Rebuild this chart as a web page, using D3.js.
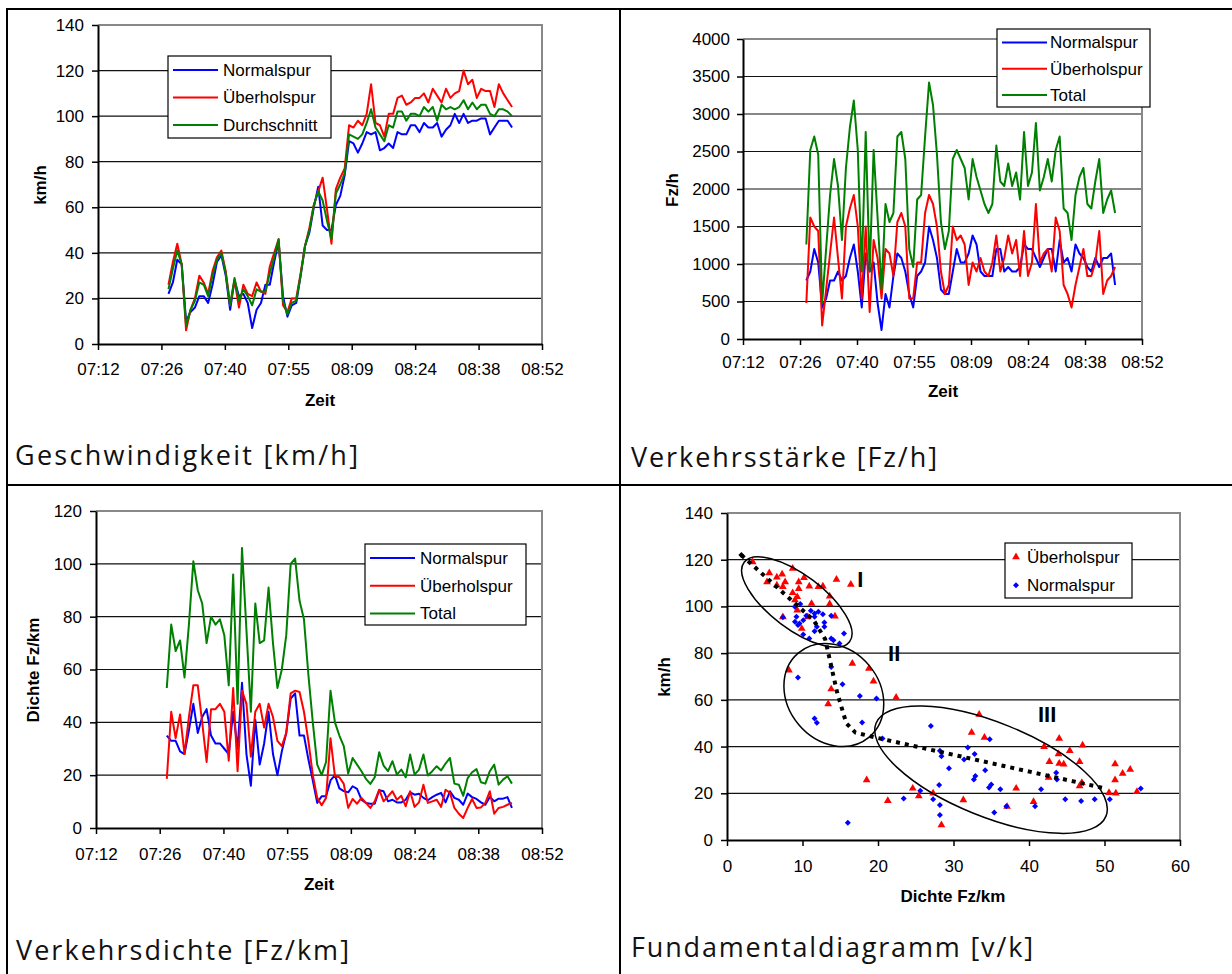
<!DOCTYPE html>
<html>
<head>
<meta charset="utf-8">
<script src="https://cdn.jsdelivr.net/npm/d3@7"></script>
<style>
  body { margin: 0; background: #fff; }
  svg { display: block; }
</style>
</head>
<body>
<div id="chart"></div>
<script>
// ---- data (1-minute samples, 07:28 - 08:46) ----
const times = [
  "07:28","07:29","07:30","07:31","07:32","07:33","07:34","07:35","07:36","07:37",
  "07:38","07:39","07:40","07:41","07:42","07:43","07:44","07:45","07:46","07:47",
  "07:48","07:49","07:50","07:51","07:52","07:53","07:54","07:55","07:56","07:57",
  "07:58","07:59","08:00","08:01","08:02","08:03","08:04","08:05","08:06","08:07",
  "08:08","08:09","08:10","08:11","08:12","08:13","08:14","08:15","08:16","08:17",
  "08:18","08:19","08:20","08:21","08:22","08:23","08:24","08:25","08:26","08:27",
  "08:28","08:29","08:30","08:31","08:32","08:33","08:34","08:35","08:36","08:37",
  "08:38","08:39","08:40","08:41","08:42","08:43","08:44","08:45","08:46"
];

// Excel time axis: 0.30 .. 0.37 of a day
const xTicks = [0.30, 0.31, 0.32, 0.33, 0.34, 0.35, 0.36, 0.37];
const xTickLabels = ["07:12","07:26","07:40","07:55","08:09","08:24","08:38","08:52"];

// Geschwindigkeit [km/h]
const speedNormal = [22, 27, 37, 35, 10, 14, 16, 21, 21, 18,
  26, 36, 39, 30, 15, 28, 21, 22, 18, 7,
  15, 18, 26, 26, 36, 45, 21, 12, 17, 18,
  30, 43, 49, 60, 69, 52, 50, 50, 61, 65,
  74, 89, 88, 84, 88, 93, 92, 93, 85, 86,
  88, 86, 93, 92, 92, 96, 96, 93, 97, 95,
  95, 97, 91, 94, 96, 101, 97, 101, 97, 98,
  98, 99, 99, 92, 95, 98, 98, 98, 95];
const speedPass = [26, 36, 44, 35, 6, 15, 20, 30, 27, 22,
  32, 38, 41, 32, 17, 28, 16, 26, 22, 21,
  27, 23, 22, 34, 40, 46, 17, 14, 20, 20,
  31, 43, 51, 61, 67, 73, 59, 44, 68, 73,
  77, 96, 95, 98, 96, 101, 114, 97, 96, 91,
  101, 101, 108, 109, 105, 106, 108, 108, 110, 106,
  112, 109, 106, 112, 108, 110, 111, 120, 114, 116,
  108, 112, 111, 111, 104, 114, 110, 107, 104];
const speedAvg = [24, 33, 41, 35, 8, 15, 19, 27, 26, 21,
  30, 37, 40, 31, 17, 29, 19, 24, 21, 17,
  24, 23, 23, 31, 38, 46, 19, 13, 18, 19,
  30, 43, 50, 61, 67, 63, 54, 46, 66, 70,
  75, 92, 91, 90, 92, 97, 103, 95, 92, 89,
  96, 95, 102, 102, 98, 101, 101, 100, 104, 102,
  104, 98, 105, 103, 104, 103, 104, 107, 103, 106,
  103, 105, 105, 101, 100, 103, 103, 102, 100];

// Verkehrsstärke [Fz/h]
const flowNormal = [780, 900, 1200, 1020, 420, 540, 780, 780, 900, 780,
  840, 1080, 1260, 900, 420, 1140, 900, 1020, 480, 120,
  600, 420, 840, 1140, 1080, 900, 600, 420, 840, 900,
  1020, 1500, 1320, 1080, 660, 600, 600, 900, 1200, 1020,
  1020, 1140, 1380, 1260, 900, 840, 840, 840, 1200, 1200,
  900, 960, 900, 900, 960, 1260, 1200, 1200, 1080, 960,
  1080, 1200, 1200, 900, 1320, 1020, 1080, 900, 1260, 1140,
  1080, 960, 900, 1080, 960, 1080, 1080, 1140, 720];
const flowPass = [480, 1620, 1500, 1440, 180, 660, 1140, 1620, 1080, 540,
  1500, 1740, 1920, 1500, 540, 1500, 360, 1320, 1080, 540,
  1200, 1140, 840, 1560, 1680, 1500, 540, 540, 1020, 1020,
  1680, 1920, 1800, 1500, 900, 600, 720, 1500, 1320, 1380,
  1260, 720, 1020, 900, 1080, 900, 840, 1020, 1380, 900,
  1080, 1380, 1140, 1320, 840, 1440, 840, 1020, 1800, 1020,
  1140, 1200, 900, 1620, 1440, 720, 600, 420, 720, 960,
  1200, 840, 840, 1020, 1440, 600, 780, 840, 960];
const flowTotal = [1260, 2520, 2700, 2460, 480, 1200, 1920, 2400, 2040, 1320,
  2280, 2820, 3180, 2520, 900, 2760, 900, 2520, 1620, 660,
  1800, 1560, 1680, 2700, 2760, 2400, 1200, 960, 1860, 1920,
  2700, 3420, 3120, 2460, 1560, 1200, 1440, 2400, 2520, 2400,
  2280, 1860, 2400, 2160, 1980, 1800, 1680, 1800, 2580, 2100,
  2040, 2340, 2040, 2220, 1860, 2760, 2040, 2220, 2880, 1980,
  2160, 2400, 2100, 2520, 2700, 1740, 1680, 1320, 1920, 2160,
  2280, 1800, 1740, 2100, 2400, 1680, 1860, 1980, 1680];

// Verkehrsdichte [Fz/km]
const densNormal = [35, 33, 33, 29, 28, 37, 47, 36, 42, 45,
  35, 32, 32, 30, 28, 44, 30, 55, 28, 16,
  41, 24, 32, 44, 28, 20, 29, 36, 49, 51,
  35, 35, 26, 18, 9.5, 12, 12, 18, 20, 15,
  14, 13.5, 15.8, 14.8, 10.7, 9.5, 9.2, 9.2, 14.3, 13.9,
  10.1, 10.7, 9.7, 9.7, 10.7, 13.5, 12.6, 13, 11.4, 10.5,
  11.7, 12.6, 13.3, 9.7, 13.9, 11.4, 10.7, 8.8, 13, 11.7,
  11, 9.7, 8.8, 11.7, 10.1, 11.1, 11.1, 11.7, 7.6];
const densPass = [18.6, 44, 34, 43, 28, 42, 54, 54, 40, 25,
  45, 45, 47, 44, 25.5, 53, 21.5, 52, 47, 27,
  44, 47, 38, 47, 42, 33, 31, 36, 51, 52,
  51.5, 44, 33, 20, 11.4, 8.6, 11.4, 34, 19.6, 19.2,
  16.7, 7.6, 11, 9.2, 11.4, 9.5, 7.6, 10.1, 14.5, 10.1,
  12, 13.9, 10.7, 12.2, 8.2, 13.9, 8, 9.7, 16.4, 9.5,
  10.1, 10.7, 8, 14.5, 13.3, 7.6, 5.4, 3.8, 7.6, 11,
  7.6, 7.8, 9.5, 13.9, 5.4, 7.6, 8, 8.8, 9.5];
const densTotal = [53, 77, 67, 71, 57, 77, 101, 90, 85, 70,
  80, 77, 79, 73, 54, 96, 47, 106, 75, 44,
  85, 70, 71, 91, 70, 53, 60, 73, 100, 102,
  86, 79, 58, 40, 24, 20, 25, 52, 40, 35,
  31, 20.6, 26.5, 24, 21.5, 18.6, 16.7, 19.2, 28.7, 23.6,
  21.5, 25.3, 20.2, 22.1, 19.2, 27.8, 20.2, 22.1, 27.8, 19.9,
  21.5, 23.4, 21.8, 24.4, 26.5, 16.8, 16.4, 12.2, 18.9, 21.1,
  22.3, 17.3, 16.8, 21.5, 24, 16.4, 18.3, 19.6, 16.8];

// Fundamentaldiagramm: [Dichte Fz/km, km/h]
const passPoints = [
  [3.4,119],[5.6,114.3],[5.3,110.5],[6.6,112.5],[7.3,113.8],[7.7,110.5],[7.4,108.4],
  [6.6,109.1],[8.7,116.2],[9.5,110.5],[10.2,112.3],[9.5,107.6],[10.9,108.6],[12.1,108.4],
  [12.7,108.6],[14.5,111.5],[16.4,109.4],[13.6,104.4],[13.6,101],[11.2,101.2],[9.3,104.1],
  [9.3,98.4],[14.3,95.8],[9.9,90.5],[7.4,95.5],[10.7,95.5],[8.7,105.8],[9,102.7],
  [8.2,72.7],[16.6,75.6],[18.8,73.4],[19.4,68],[13.8,64.6],[13.4,58.2],[22.4,61],
  [18.5,25.7],[21.3,16.8],[24.6,22.1],[25.4,18.8],[27.3,20],[28.4,6.4],[31.3,17.1],
  [32.4,46],[33.4,53.7],[34.1,43.9],[37.1,14.3],[38.3,22.1],[40.6,16.4],[42,39.9],
  [42.7,33.5],[42.6,26.8],[43.9,36.8],[44,43.5],[44,32.8],[44.6,32.4],[45.4,38.2],
  [46.7,33.5],[46.7,23.1],[47.1,40.6],[47,24.5],[50.6,20.2],[51.4,25.7],[51.4,32.5],
  [51.5,20],[52.4,28.5],[53.4,30.2],[54.3,20.7]
];
const normalPoints = [
  [7.4,95.4],[9,99.9],[9.7,101],[9.2,95.6],[9,93.4],[9.4,92],[10.1,94.1],[11.1,98.1],
  [11.6,97],[12.1,97.7],[12.7,96.6],[13.8,96],[11.6,95.6],[12.9,93.1],[12.9,91.3],
  [10.1,88],[10.9,86.3],[11.9,91.3],[13.8,86.3],[14.9,84.1],[15.5,88.4],[11.6,89.4],
  [9.6,92.7],[14.1,85.5],[10.5,96],
  [9.4,69.6],[13.8,74.1],[15.3,66.7],[17.6,61.6],[19.8,60.6],[11.6,52],[11.9,50.2],[17.9,50.3],
  [16,7.4],[20.6,43.5],[23.4,17.8],[25.6,21.1],[27,48.8],[27.3,17.4],[28.1,23.5],
  [28.2,38.2],[28.4,35.9],[28.2,15],[28.2,10.7],[29.4,30.7],[31.4,34.5],[31.9,39.6],
  [32.8,36.8],[32.7,25.9],[32.9,27.4],[34.2,29.9],[34.7,22.5],[35,23.8],[34.8,43.1],
  [35.4,11.8],[36.2,21.7],[37,14.5],[40.8,14.5],[41.6,21.7],[43.6,28.8],[43.7,25.9],
  [44.8,17.5],[46.9,16.7],[48.7,17.4],[50.7,17.5],[54.8,22.1]
];
// hand-drawn trend (dotted) and the three regimes
const trendPoints = [[1.9,122],[11.5,94],[13,86],[14.6,63],[15.8,50],[17,46],[19.5,44],[50.2,22]];
const clusterNames = ["I", "II", "III"];
const clusterCentres = [[9.25,101.9],[14.15,62.1],[34.97,30.1]];
const clusterLabelPos = [[17.66,111.5],[22.14,79.8],[42.4,53.7]];

// ---- drawing ----
const W = 1232, H = 974;
const FONT = "'Liberation Sans', Arial, sans-serif";
const BLUE = "#0000ff", RED = "#ff0000", GREEN = "#008000";

const svg = d3.select("#chart").append("svg")
  .attr("width", W).attr("height", H)
  .style("font-family", FONT);

svg.append("rect").attr("width", W).attr("height", H).attr("fill", "#fff");

// table lines
const cell = svg.append("g").attr("stroke", "#000").attr("stroke-width", 2);
cell.append("line").attr("x1", 6).attr("x2", W).attr("y1", 9).attr("y2", 9);
cell.append("line").attr("x1", 6).attr("x2", W).attr("y1", 485).attr("y2", 485);
cell.append("line").attr("x1", 7).attr("x2", 7).attr("y1", 8).attr("y2", H);
cell.append("line").attr("x1", 620).attr("x2", 620).attr("y1", 8).attr("y2", H);

const toDay = s => {
  const [h, m] = s.split(":").map(Number);
  return (h * 60 + m) / 1440;
};

// shared axis / grid styling
const styleAxis = (g) => {
  g.attr("font-size", 17).attr("font-family", FONT);
  g.selectAll("text").attr("fill", "#000");
  g.selectAll("line").attr("stroke", "#000").attr("stroke-width", 1.5);
  g.select(".domain").attr("stroke", "#000").attr("stroke-width", 2);
};

const drawFrame = (p, y, yMax, yStep) => {
  const g = svg.append("g");
  g.selectAll("line.grid")
    .data(d3.range(yStep, yMax, yStep))
    .join("line")
      .attr("x1", p.left).attr("x2", p.right)
      .attr("y1", d => y(d)).attr("y2", d => y(d))
      .attr("stroke", "#111").attr("stroke-width", 1.2);
  // grey plot-area border (top / right)
  g.append("path")
    .attr("d", `M${p.left},${p.top}H${p.right}V${p.bottom}`)
    .attr("fill", "none").attr("stroke", "#888").attr("stroke-width", 2);
};

const drawTitles = (p) => {
  svg.append("text")
    .attr("x", p.xTitle[0]).attr("y", p.xTitle[1]).attr("dy", "0.35em")
    .attr("text-anchor", "middle").attr("font-size", 17).attr("font-weight", "bold")
    .text(p.xLabel);
  svg.append("text")
    .attr("transform", `translate(${p.yTitle[0]},${p.yTitle[1]}) rotate(-90)`)
    .attr("dy", "0.35em")
    .attr("text-anchor", "middle").attr("font-size", 17).attr("font-weight", "bold")
    .text(p.yLabel);
  svg.append("text")
    .attr("x", p.title[0]).attr("y", p.title[1])
    .attr("font-family", "'Open Sans', 'DejaVu Sans', sans-serif")
    .attr("font-size", 27)
    .attr("textLength", p.title[2]).attr("lengthAdjust", "spacing")
    .attr("fill", "#111")
    .text(p.titleText);
};

const drawLegend = (p, entries, symbolFn) => {
  const L = p.legend;
  const g = svg.append("g");
  g.append("rect")
    .attr("x", L.x).attr("y", L.y).attr("width", L.w).attr("height", L.h)
    .attr("fill", "#fff").attr("stroke", "#000").attr("stroke-width", 1.2);
  const row = g.selectAll("g.row").data(entries).join("g")
    .attr("transform", (d, i) => `translate(${L.x},${L.y + L.first + i * L.step})`);
  symbolFn(row);
  row.append("text")
    .attr("x", L.textX).attr("dy", "0.35em")
    .attr("font-size", 17).attr("fill", "#000")
    .text(d => d.name);
};

const drawTimePanel = (p) => {
  const x = d3.scaleLinear().domain([0.30, 0.37]).range([p.left, p.right]);
  const y = d3.scaleLinear().domain([0, p.yMax]).range([p.bottom, p.top]);

  drawFrame(p, y, p.yMax, p.yStep);

  const line = d3.line()
    .x((d, i) => x(toDay(times[i])))
    .y(d => y(d));

  svg.append("g")
    .selectAll("path")
    .data(p.series)
    .join("path")
      .attr("d", s => line(s.values))
      .attr("fill", "none")
      .attr("stroke", s => s.colour)
      .attr("stroke-width", 2)
      .attr("stroke-linejoin", "round");

  svg.append("g")
    .attr("transform", `translate(${p.left},0)`)
    .call(d3.axisLeft(y).tickValues(d3.range(0, p.yMax + 1, p.yStep))
      .tickFormat(d3.format("d"))
      .tickSize(6).tickSizeOuter(0).tickPadding(p.yPad))
    .call(styleAxis);

  svg.append("g")
    .attr("transform", `translate(0,${p.bottom})`)
    .call(d3.axisBottom(x).tickValues(xTicks)
      .tickFormat((d, i) => xTickLabels[i])
      .tickSize(6).tickSizeOuter(0).tickPadding(p.xPad))
    .call(styleAxis);

  drawLegend(p, p.series, row => {
    row.append("line")
      .attr("x1", 5).attr("x2", 50)
      .attr("stroke", d => d.colour).attr("stroke-width", 2);
  });
  drawTitles(p);
};

drawTimePanel({
  left: 98, right: 542, top: 25, bottom: 344, yMax: 140, yStep: 20, yPad: 8, xPad: 13,
  series: [
    { name: "Normalspur", values: speedNormal, colour: BLUE },
    { name: "Überholspur", values: speedPass, colour: RED },
    { name: "Durchschnitt", values: speedAvg, colour: GREEN }
  ],
  legend: { x: 168, y: 56, w: 163, h: 82, first: 14, step: 27.5, textX: 55 },
  xLabel: "Zeit", xTitle: [320, 400], yLabel: "km/h", yTitle: [40, 185],
  titleText: "Geschwindigkeit [km/h]", title: [15, 465, 343]
});

drawTimePanel({
  left: 743, right: 1142, top: 39, bottom: 339, yMax: 4000, yStep: 500, yPad: 7, xPad: 11,
  series: [
    { name: "Normalspur", values: flowNormal, colour: BLUE },
    { name: "Überholspur", values: flowPass, colour: RED },
    { name: "Total", values: flowTotal, colour: GREEN }
  ],
  legend: { x: 997, y: 29, w: 153, h: 78, first: 13.5, step: 26.2, textX: 53 },
  xLabel: "Zeit", xTitle: [943, 391], yLabel: "Fz/h", yTitle: [672, 190],
  titleText: "Verkehrsstärke [Fz/h]", title: [631, 467, 306]
});

drawTimePanel({
  left: 96, right: 542, top: 511, bottom: 828, yMax: 120, yStep: 20, yPad: 8, xPad: 14,
  series: [
    { name: "Normalspur", values: densNormal, colour: BLUE },
    { name: "Überholspur", values: densPass, colour: RED },
    { name: "Total", values: densTotal, colour: GREEN }
  ],
  legend: { x: 365, y: 544, w: 161, h: 81, first: 14, step: 27.7, textX: 55 },
  xLabel: "Zeit", xTitle: [319, 884], yLabel: "Dichte Fz/km", yTitle: [33, 670],
  titleText: "Verkehrsdichte [Fz/km]", title: [16, 960, 333]
});

// ---- Fundamentaldiagramm ----
(() => {
  const p = {
    left: 727, right: 1180, top: 513, bottom: 840,
    legend: { x: 1005, y: 543, w: 127, h: 55, first: 14, step: 28.3, textX: 22 },
    xLabel: "Dichte Fz/km", xTitle: [953, 896], yLabel: "km/h", yTitle: [664, 677],
    titleText: "Fundamentaldiagramm [v/k]", title: [631, 957, 402]
  };
  const x = d3.scaleLinear().domain([0, 60]).range([p.left, p.right]);
  const y = d3.scaleLinear().domain([0, 140]).range([p.bottom, p.top]);

  drawFrame(p, y, 140, 20);

  const tri = d3.symbol().type(d3.symbolTriangle).size(26);
  const dia = d3.symbol().type(d3.symbolSquare).size(18);

  svg.append("g").selectAll("path")
    .data(passPoints)
    .join("path")
      .attr("d", tri)
      .attr("transform", d => `translate(${x(d[0])},${y(d[1])})`)
      .attr("fill", RED);

  svg.append("g").selectAll("path")
    .data(normalPoints)
    .join("path")
      .attr("d", dia)
      .attr("transform", d => `translate(${x(d[0])},${y(d[1])}) rotate(45)`)
      .attr("fill", BLUE);

  // regime ellipses (sizes in px)
  const shapes = [
    { rx: 66, ry: 27, rot: 37 },
    { rx: 55, ry: 46, rot: 50 },
    { rx: 124, ry: 47, rot: 22 }
  ];
  svg.append("g").selectAll("ellipse")
    .data(clusterCentres)
    .join("ellipse")
      .attr("rx", (d, i) => shapes[i].rx)
      .attr("ry", (d, i) => shapes[i].ry)
      .attr("transform", (d, i) => `translate(${x(d[0])},${y(d[1])}) rotate(${shapes[i].rot})`)
      .attr("fill", "none").attr("stroke", "#000").attr("stroke-width", 1.5);

  svg.append("g").selectAll("text")
    .data(clusterLabelPos)
    .join("text")
      .attr("x", d => x(d[0])).attr("y", d => y(d[1])).attr("dy", "0.35em")
      .attr("text-anchor", "middle")
      .attr("font-size", 22).attr("font-weight", "bold")
      .text((d, i) => clusterNames[i]);

  // dotted trend line
  svg.append("path")
    .attr("d", d3.line().x(d => x(d[0])).y(d => y(d[1]))(trendPoints))
    .attr("fill", "none").attr("stroke", "#000")
    .attr("stroke-width", 4).attr("stroke-dasharray", "4,5");
  svg.append("path")
    .attr("d", dia)
    .attr("transform", `translate(${x(trendPoints[0][0])},${y(trendPoints[0][1])}) rotate(45)`)
    .attr("fill", "#000");

  svg.append("g")
    .attr("transform", `translate(${p.left},0)`)
    .call(d3.axisLeft(y).tickValues(d3.range(0, 141, 20))
      .tickSize(6).tickSizeOuter(0).tickPadding(8))
    .call(styleAxis);

  svg.append("g")
    .attr("transform", `translate(0,${p.bottom})`)
    .call(d3.axisBottom(x).tickValues(d3.range(0, 61, 10))
      .tickSize(6).tickSizeOuter(0).tickPadding(14))
    .call(styleAxis);

  drawLegend(p, [
    { name: "Überholspur", shape: "tri" },
    { name: "Normalspur", shape: "dia" }
  ], row => {
    row.append("path")
      .attr("d", d => d.shape === "tri" ? tri() : dia())
      .attr("transform", d => d.shape === "tri" ? "translate(11,0)" : "translate(11,0) rotate(45)")
      .attr("fill", d => d.shape === "tri" ? RED : BLUE);
  });
  drawTitles(p);
})();
</script>
</body>
</html>
